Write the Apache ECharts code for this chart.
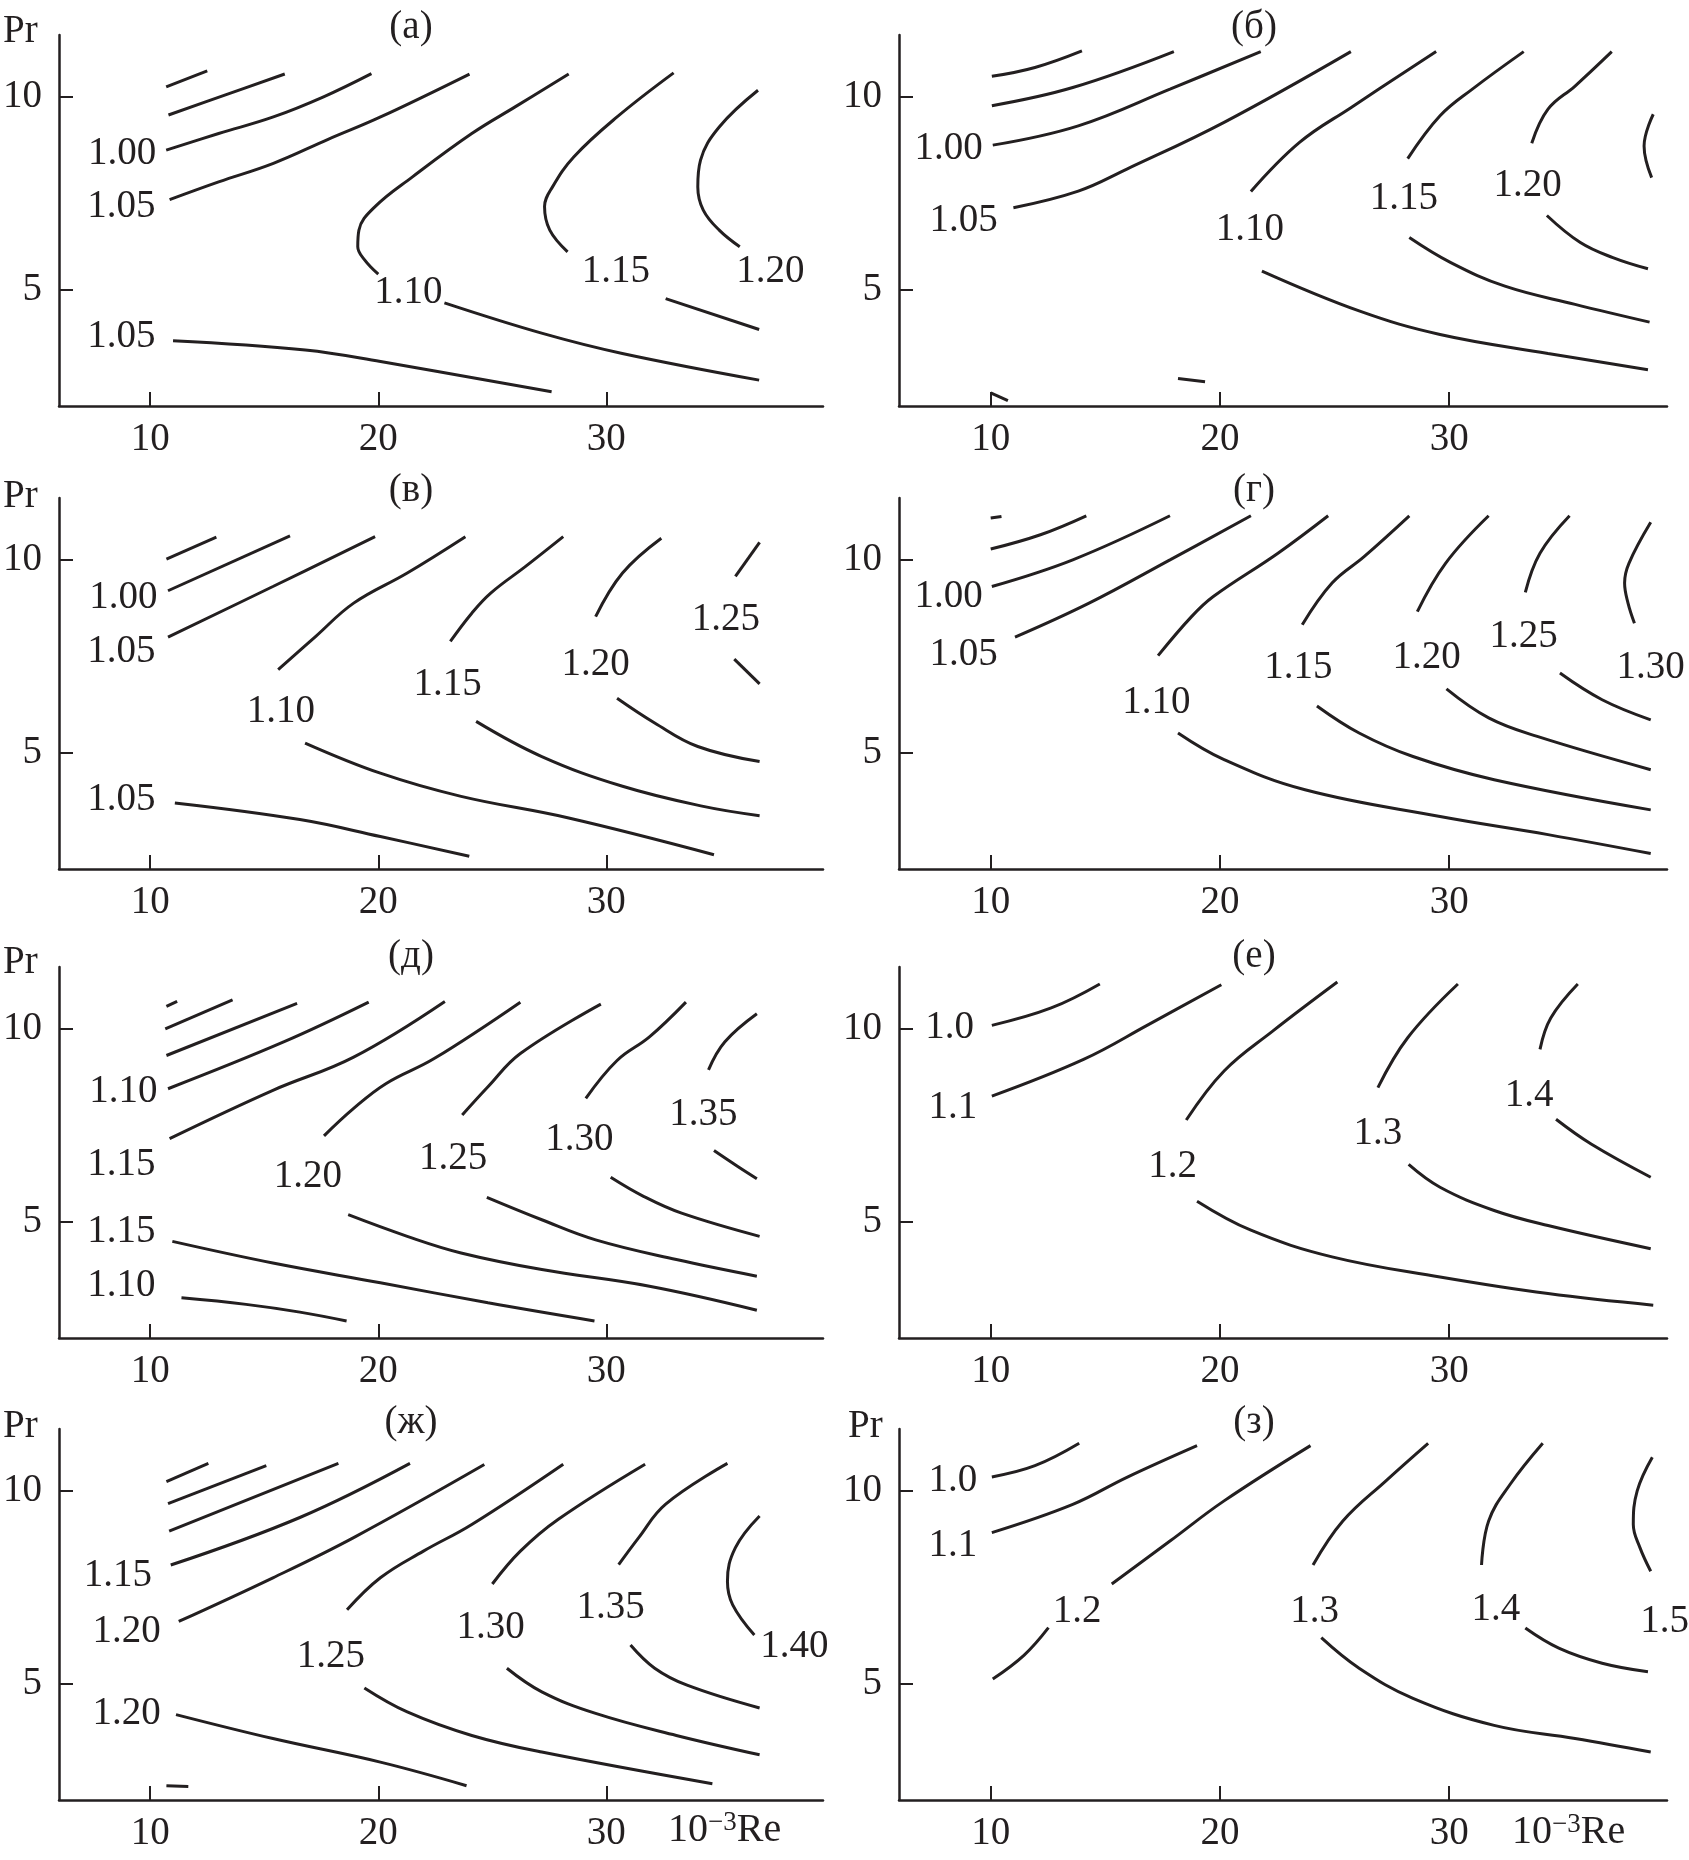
<!DOCTYPE html>
<html><head><meta charset="utf-8">
<script src="https://cdn.jsdelivr.net/npm/echarts@6.0.0/dist/echarts.min.js"></script>
<style>html,body{margin:0;padding:0;background:#fff}#c{width:1689px;height:1860px}</style>
</head><body><div id="c"></div><script>
const FONT = "'Liberation Serif','Times New Roman',serif";
const INK = '#231f20';
const xTicks = [10, 20, 30];
const yTicks = [5, 10];
const panelTitles = ['(а)', '(б)', '(в)', '(г)', '(д)', '(е)', '(ж)', '(з)'];

// (а)
const linesA = [
  [[10.7,10.26],[12.5,10.67]],
  [[10.8,9.53],[13.3,10.05],[15.9,10.59]],
  [[10.7,8.62],[13,9.05],[15.4,9.48],[17.6,10.0],[19.7,10.6]],
  [[10.85,7.34],[13,7.8],[15.4,8.28],[17.8,8.9],[20.1,9.48],[24.0,10.59]],
  [[28.35,10.59],[26.0,9.74],[24.1,9.05],[21.5,7.93],[19.86,7.16],[19.15,6.55],[19.1,6.12],[19.4,5.78],[20.0,5.41]],
  [[22.9,4.67],[27.2,3.88],[30.7,3.36],[36.7,2.67]],
  [[11.0,3.69],[16.8,3.45],[20.1,3.15],[27.6,2.37]],
  [[32.95,10.62],[30.47,9.48],[28.58,8.45],[27.64,7.67],[27.29,7.16],[27.52,6.55],[28.3,5.99]],
  [[32.6,4.78],[36.7,3.98]],
  [[36.65,10.17],[34.95,9.22],[34.13,8.36],[34.01,7.67],[34.25,7.07],[34.95,6.55],[35.85,6.12]]
];
const labelsA = [[8.77,8.53,'1.00'],[8.73,7.16,'1.05'],[21.32,4.93,'1.10'],[30.42,5.47,'1.15'],[37.19,5.47,'1.20'],[8.73,3.79,'1.05']];

// (б)
const linesB = [
  [[10.05,10.53],[11.93,10.76],[13.98,11.19]],
  [[10.05,9.77],[13.58,10.24],[17.99,11.17]],
  [[10.09,8.75],[13.82,9.25],[17.82,10.2],[21.78,11.17]],
  [[10.99,7.13],[13.82,7.56],[15.94,8.13],[20.18,9.34],[25.71,11.17]],
  [[21.35,7.55],[23.47,8.82],[25.71,9.72],[29.43,11.17]],
  [[28.19,8.4],[29.6,9.51],[31.01,10.2],[33.25,11.17]],
  [[33.6,8.8],[34.31,9.68],[35.49,10.28],[37.09,11.17]],
  [[38.9,9.55],[38.5,8.73],[38.83,7.91]],
  [[21.83,5.49],[26.07,4.46],[29.6,3.85],[34.31,3.36],[38.67,2.94]],
  [[28.26,6.36],[30.07,5.71],[32.43,5.1],[35.49,4.63],[38.74,4.17]],
  [[34.26,6.93],[35.72,6.23],[37.14,5.84],[38.67,5.55]],
  [[18.17,2.71],[19.35,2.63]],
  [[10.0,2.34],[10.75,2.14]]
];
const labelsB = [[8.16,8.66,'1.00'],[8.82,6.79,'1.05'],[21.31,6.57,'1.10'],[28.02,7.35,'1.15'],[33.42,7.69,'1.20']];

// (в)
const linesV = [
  [[10.71,10.02],[12.9,10.59]],
  [[10.78,9.2],[16.13,10.62]],
  [[10.78,8.0],[15.38,9.31],[19.86,10.6]],
  [[15.61,7.16],[17.26,8.02],[18.92,8.88],[21.27,9.66],[23.82,10.6]],
  [[23.16,7.89],[24.1,8.62],[24.93,9.14],[26.46,9.83],[28.11,10.6]],
  [[29.53,8.53],[30.71,9.66],[32.41,10.56]],
  [[35.66,9.57],[36.72,10.45]],
  [[35.61,7.43],[36.72,6.79]],
  [[30.47,6.42],[32.12,5.78],[34.01,5.17],[36.72,4.78]],
  [[24.29,5.82],[27.17,4.91],[30.71,4.14],[34.25,3.62],[36.72,3.38]],
  [[16.79,5.26],[20.09,4.48],[23.63,3.88],[28.35,3.32],[34.72,2.37]],
  [[11.08,3.71],[16.56,3.28],[20.09,2.84],[23.99,2.33]]
];
const labelsV = [[8.82,9.01,'1.00'],[8.73,7.63,'1.05'],[15.73,6.08,'1.10'],[23.04,6.77,'1.15'],[29.53,7.28,'1.20'],[35.24,8.45,'1.25'],[8.73,3.79,'1.05']];

// (г)
const linesG = [
  [[10.0,11.08],[10.47,11.12]],
  [[10.0,10.28],[12.17,10.65],[14.17,11.14]],
  [[10.05,9.31],[13.58,10.0],[17.82,11.14]],
  [[11.06,8.0],[14.29,8.88],[17.82,10.0],[21.35,11.14]],
  [[17.3,7.52],[18.76,8.53],[19.71,9.05],[22.53,10.17],[24.72,11.14]],
  [[23.59,8.32],[24.89,9.4],[26.3,10.09],[28.26,11.14]],
  [[28.61,8.66],[29.84,9.91],[31.72,11.14]],
  [[33.32,9.16],[33.96,10.17],[35.25,11.14]],
  [[38.79,10.97],[37.84,9.91],[37.65,9.4],[37.8,8.88],[38.08,8.36]],
  [[34.83,7.07],[36.67,6.38],[38.79,5.86]],
  [[29.88,6.66],[31.72,5.91],[33.84,5.43],[38.79,4.57]],
  [[24.23,6.22],[26.07,5.52],[28.42,4.91],[31.96,4.31],[38.79,3.53]],
  [[18.17,5.52],[20.18,4.83],[23.71,4.05],[29.6,3.36],[34.31,2.89],[38.79,2.4]]
];
const labelsG = [[8.16,9.05,'1.00'],[8.82,7.54,'1.05'],[17.23,6.29,'1.10'],[23.42,7.2,'1.15'],[29.01,7.46,'1.20'],[33.25,8.02,'1.25'],[38.79,7.2,'1.30']];

// (д)
const linesD = [
  [[10.71,10.58],[11.18,10.71]],
  [[10.66,10.0],[13.61,10.75]],
  [[10.71,9.31],[16.44,10.66]],
  [[10.78,8.45],[15.85,9.66],[19.58,10.69]],
  [[10.85,7.16],[15.38,8.41],[18.92,9.27],[22.92,10.71]],
  [[17.62,7.23],[18.92,7.94],[20.33,8.58],[22.45,9.23],[26.23,10.69]],
  [[23.68,7.77],[24.81,8.5],[26.23,9.36],[29.76,10.64]],
  [[29.1,8.2],[30.47,9.18],[31.89,9.79],[33.49,10.69]],
  [[34.48,8.94],[35.19,9.66],[36.6,10.39]],
  [[34.72,6.85],[35.78,6.43],[36.6,6.12]],
  [[30.19,6.16],[31.65,5.66],[33.3,5.23],[36.72,4.63]],
  [[24.76,5.64],[27.17,5.06],[29.53,4.54],[33.07,4.03],[36.6,3.6]],
  [[18.68,5.19],[21.27,4.63],[23.63,4.2],[27.17,3.77],[31.89,3.34],[36.6,2.72]],
  [[10.97,4.5],[15.38,3.94],[20.09,3.43],[24.81,2.91],[29.48,2.44]],
  [[11.37,3.04],[14.2,2.87],[16.56,2.67],[18.61,2.44]]
];
const labelsD = [[8.82,8.37,'1.10'],[8.73,6.48,'1.15'],[16.91,6.18,'1.20'],[23.28,6.65,'1.25'],[28.82,7.12,'1.30'],[34.25,7.77,'1.35'],[8.73,4.76,'1.15'],[8.73,3.34,'1.10']];

// (е)
const linesE = [
  [[10.05,10.09],[12.64,10.54],[14.76,11.16]],
  [[10.05,8.26],[14.05,9.21],[16.88,10.11],[20.06,11.14]],
  [[18.53,7.64],[20.18,8.91],[22.3,9.94],[25.12,11.21]],
  [[26.89,8.48],[28.19,9.77],[30.38,11.16]],
  [[33.96,9.47],[34.43,10.28],[35.61,11.16]],
  [[34.66,7.66],[36.19,7.02],[38.79,6.16]],
  [[28.23,6.49],[29.6,5.9],[31.96,5.3],[34.31,4.91],[38.79,4.31]],
  [[19.0,5.54],[21.35,4.79],[24.89,4.1],[29.6,3.58],[34.31,3.15],[38.9,2.85]]
];
const labelsE = [[8.21,10.03,'1.0'],[8.35,7.96,'1.1'],[17.94,6.42,'1.2'],[26.89,7.28,'1.3'],[33.49,8.26,'1.4']];

// (ж)
const linesZh = [
  [[10.71,10.24],[12.55,10.71]],
  [[10.78,9.67],[15.09,10.65]],
  [[10.83,8.96],[18.25,10.71]],
  [[10.9,8.08],[16.56,9.31],[21.39,10.71]],
  [[11.25,6.62],[15.38,7.75],[18.92,8.79],[24.65,10.68]],
  [[18.63,6.92],[20.09,7.75],[21.98,8.44],[24.1,9.13],[28.11,10.69]],
  [[25.0,7.59],[26.23,8.44],[27.88,9.26],[31.7,10.69]],
  [[30.54,8.09],[31.42,8.79],[32.59,9.65],[35.31,10.71]],
  [[36.72,9.35],[35.66,8.53],[35.31,7.66],[35.54,7.05],[36.49,6.27]],
  [[31.06,6.01],[32.12,5.41],[33.54,4.97],[36.72,4.38]],
  [[25.64,5.41],[27.17,4.8],[29.53,4.24],[33.07,3.67],[36.72,3.17]],
  [[19.39,4.9],[21.27,4.28],[24.1,3.67],[27.17,3.24],[34.65,2.42]],
  [[11.13,4.21],[15.38,3.59],[20.09,2.98],[23.87,2.37]],
  [[10.71,2.37],[11.67,2.35]]
];
const labelsZh = [[8.58,7.79,'1.15'],[8.96,6.36,'1.20'],[17.92,5.71,'1.25'],[24.93,6.45,'1.30'],[30.19,6.97,'1.35'],[38.25,5.97,'1.40'],[8.96,4.24,'1.20']];

// (з)
const linesZ = [
  [[10.05,10.36],[11.93,10.65],[13.86,11.23]],
  [[10.05,8.92],[13.58,9.65],[15.94,10.35],[19.0,11.17]],
  [[15.28,7.59],[17.82,8.7],[20.18,9.74],[23.95,11.17]],
  [[10.09,5.13],[11.46,5.75],[12.52,6.46]],
  [[24.06,8.08],[25.36,9.22],[27.24,10.26],[29.08,11.23]],
  [[24.42,6.2],[26.07,5.41],[28.42,4.63],[31.96,3.93],[35.49,3.59],[38.79,3.24]],
  [[31.41,8.08],[31.72,9.22],[32.66,10.17],[34.08,11.23]],
  [[33.32,6.45],[34.78,5.93],[36.67,5.54],[38.67,5.32]],
  [[38.86,10.87],[38.2,10.0],[38.03,9.13],[38.32,8.53],[38.79,7.92]]
];
const labelsZ = [[8.35,10.26,'1.0'],[8.35,8.57,'1.1'],[13.77,6.88,'1.2'],[24.13,6.88,'1.3'],[32.04,6.92,'1.4'],[39.4,6.62,'1.5']];

const allLines = [linesA, linesB, linesV, linesG, linesD, linesE, linesZh, linesZ];
const allLabels = [labelsA, labelsB, labelsV, labelsG, labelsD, labelsE, labelsZh, labelsZ];

// layout (pixels)
const colLeft = [56, 899], colWidth = [767, 768];
const rowTop = [35, 498, 967, 1429], rowBottom = [406, 869, 1338, 1800];
const H = 1860, W = 1689;

const grids = [], xAxes = [], yAxes = [], series = [], graphics = [];
for (let i = 0; i < 8; i++) {
  const c = i % 2, r = Math.floor(i / 2);
  grids.push({ left: colLeft[c], width: colWidth[c], top: rowTop[r], height: rowBottom[r] - rowTop[r], containLabel: false });
  xAxes.push({
    type: 'value', gridIndex: i, min: 6, max: 39.5,
    axisLine: { show: true, onZero: false, lineStyle: { color: INK, width: 2.5 } },
    axisTick: { show: true, inside: true, length: 14, customValues: xTicks, lineStyle: { color: INK, width: 2 } },
    axisLabel: { show: true, customValues: xTicks, margin: 14, fontFamily: FONT, fontSize: 39, color: INK },
    splitLine: { show: false }
  });
  yAxes.push({
    type: 'value', gridIndex: i, min: 2, max: 11.6,
    axisLine: { show: true, onZero: false, lineStyle: { color: INK, width: 2.5 } },
    axisTick: { show: true, inside: true, length: 14, customValues: yTicks, lineStyle: { color: INK, width: 2 } },
    axisLabel: { show: true, customValues: yTicks, margin: 17, fontFamily: FONT, fontSize: 39, color: INK },
    splitLine: { show: false }
  });
  allLines[i].forEach(pts => series.push({
    type: 'line', xAxisIndex: i, yAxisIndex: i, data: pts, smooth: 0.4,
    showSymbol: false, symbol: 'none', silent: true, clip: false,
    lineStyle: { color: INK, width: 3, cap: 'butt' }
  }));
  series.push({
    type: 'scatter', xAxisIndex: i, yAxisIndex: i, symbolSize: 0, silent: true,
    itemStyle: { color: INK, opacity: 1 },
    data: allLabels[i].map(l => ({ value: [l[0], l[1]], name: l[2] })),
    label: { show: true, position: 'inside', formatter: '{b}', fontFamily: FONT, fontSize: 39,
      color: INK, opacity: 1, textBorderWidth: 0, textBorderColor: 'transparent' }
  });
}

const titleCx = [411, 1254], titleCy = [28, 491, 957, 1423];
for (let i = 0; i < 8; i++) {
  const c = i % 2, r = Math.floor(i / 2);
  graphics.push({ type: 'text', x: titleCx[c], y: titleCy[r], silent: true,
    style: { text: panelTitles[i], fill: INK, font: '39px ' + FONT, textAlign: 'center', textVerticalAlign: 'middle' } });
}
const prPos = [[3, 32], [3, 497], [3, 963], [3, 1427], [848, 1427]];
prPos.forEach(p => graphics.push({ type: 'text', x: p[0], y: p[1], silent: true,
  style: { text: 'Pr', fill: INK, font: '39px ' + FONT, textAlign: 'left', textVerticalAlign: 'middle' } }));
const reAxisPos = [[668, 1830], [1512, 1832]];
reAxisPos.forEach(p => graphics.push({ type: 'text', x: p[0], y: p[1], silent: true,
  style: { text: '{a|10}{b|−3}{a|Re}', fill: INK, font: '39px ' + FONT, textAlign: 'left', textVerticalAlign: 'middle',
    rich: { a: { fontFamily: FONT, fontSize: 40, lineHeight: 42, fill: INK }, b: { fontFamily: FONT, fontSize: 27, verticalAlign: 'top', lineHeight: 42, fill: INK } } } }));

const chart = echarts.init(document.getElementById('c'), null, { renderer: 'canvas', width: W, height: H });
chart.setOption({
  backgroundColor: '#fff', animation: false,
  grid: grids, xAxis: xAxes, yAxis: yAxes, series: series, graphic: graphics
});
</script></body></html>
